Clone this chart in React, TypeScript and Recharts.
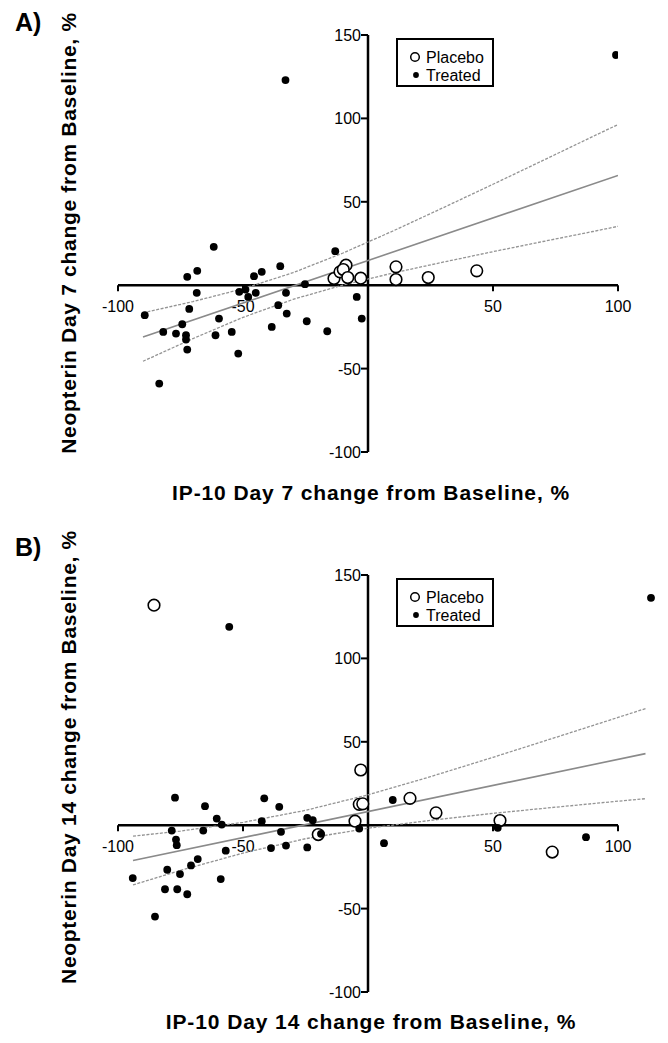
import React from 'react';
import {
  ReferenceDot,
  ReferenceLine,
  Scatter,
  ScatterChart,
  XAxis,
  YAxis,
} from 'recharts';

type Pt = [number, number];

const FONT = '"Liberation Sans", Arial, sans-serif';

const xTicks = [-100, -50, 50, 100];
const yTicks = [-100, -50, 50, 100, 150];

// Panel A — Day 7
const placeboDay7: Pt[] = [
  [-13.6, 4], [-11.2, 8], [-8.8, 12], [-9.9, 9.4], [-8.1, 4.6], [-2.9, 4.2],
  [11.2, 11], [11.2, 3.4], [24.1, 4.6], [43.5, 8.6],
];
const treatedDay7: Pt[] = [
  [-89.3, -18], [-83.5, -59], [-81.9, -28], [-76.8, -29], [-74.3, -23.4],
  [-72.8, -30], [-72.8, -32.6], [-72.3, -38.6], [-71.5, -14.2], [-72.3, 5],
  [-68.5, -4.6], [-68.3, 8.6], [-61.7, 23], [-59.6, -20], [-61, -30],
  [-54.5, -28], [-51.9, -41], [-51.5, -4], [-49, -2.6], [-47.9, -7],
  [-45.6, 5.4], [-44.9, -4.6], [-42.5, 8], [-38.5, -25], [-35.9, -12],
  [-35.1, 11.4], [-32.8, -4.6], [-32.5, -17], [-25.2, 0.6], [-24.5, -21.6],
  [-16.3, -27.6], [-13.1, 20.4], [-4.5, -7], [-2.5, -20], [-33, 123],
  [99.2, 138],
];
const fitDay7: Pt[] = [[-90, -31.1], [100, 65.8]];
const bandXDay7 = [-90, -70, -50, -30, -10, 10, 30, 50, 70, 90, 100];
const upperDay7 = [-16.6, -9.8, -2.1, 7.5, 19.3, 32.5, 46.4, 60.5, 74.8, 89.2, 96.3];
const lowerDay7 = [-45.6, -32, -19.3, -8.5, 0.1, 7.3, 13.8, 20.1, 26.2, 32.2, 35.3];

// Panel B — Day 14
const placeboDay14: Pt[] = [
  [-85.6, 131.9], [-19.9, -5.6], [-5.2, 2.4], [-3.5, 12.5], [-2.1, 12.8],
  [-2.9, 33.1], [16.8, 16.1], [27.2, 7.4], [52.8, 2.8], [73.7, -16.1],
];
const treatedDay14: Pt[] = [
  [-94.1, -31.7], [-85.2, -54.8], [-81.2, -38.4], [-80.3, -26.7], [-77.2, 16.5],
  [-78.5, -3.2], [-76.8, -8.6], [-76.5, -12], [-76.3, -38.4], [-75.2, -29.3],
  [-72.3, -41.4], [-70.8, -24.1], [-68.1, -20.3], [-65.9, -3.2], [-65.2, 11.4],
  [-60.5, 4], [-58.5, 0.4], [-58.9, -32.3], [-56.9, -15.3], [-42.5, 2.4],
  [-41.5, 16.1], [-38.8, -13.7], [-35.5, 11], [-34.8, -4], [-32.8, -12.2],
  [-24.3, 4.4], [-22.1, 3], [-24.3, -13.3], [-18.8, -5.2], [-3.5, -2],
  [6.4, -10.8], [9.9, 15.1], [-55.5, 118.9], [113.2, 136.3], [51.9, -1.6],
  [87.2, -7.2],
];
const fitDay14: Pt[] = [[-94, -21.2], [111, 42.9]];
const bandXDay14 = [-94, -75, -50, -25, 0, 25, 50, 75, 100, 111];
const upperDay14 = [-6.6, -3.5, 1.7, 8.9, 18.2, 29.1, 40.7, 52.6, 64.6, 69.9];
const lowerDay14 = [-35.8, -27.1, -16.7, -8.1, -1.8, 2.9, 7.1, 10.8, 14.4, 15.9];

const rows = (pts: Pt[]) => pts.map(([x, y]) => ({ x, y }));
const zip = (xs: number[], ys: number[]) => xs.map((x, i) => ({ x, y: ys[i] }));

const OpenDot = (p: any) => (
  <circle cx={p.cx} cy={p.cy} r={5.8} fill="#fff" stroke="#000" strokeWidth={1.6} />
);
const FilledDot = (p: any) => <circle cx={p.cx} cy={p.cy} r={3.9} fill="#000" />;
const NoDot = () => <g />;

const xTickShape = (v: number) => (p: any) => (
  <g>
    <line x1={p.cx} x2={p.cx} y1={p.cy} y2={p.cy + 6} stroke="#000" strokeWidth={2} />
    <text x={p.cx} y={p.cy + 27} textAnchor="middle" fontSize={16} fontFamily={FONT} fill="#000">
      {v}
    </text>
  </g>
);

const yTickShape = (v: number) => (p: any) => (
  <g>
    <line x1={p.cx - 7} x2={p.cx} y1={p.cy} y2={p.cy} stroke="#000" strokeWidth={2} />
    <text x={p.cx - 7} y={p.cy + 6} textAnchor="end" fontSize={16} fontFamily={FONT} fill="#000">
      {v}
    </text>
  </g>
);

interface PanelProps {
  top: number;
  xMax: number;
  tag: string;
  tagY: number;
  xTitle: string;
  xTitleY: number;
  yTitle: string;
  yTitleCenter: number;
  placebo: Pt[];
  treated: Pt[];
  fit: Pt[];
  bandX: number[];
  upper: number[];
  lower: number[];
}

function Panel({
  top, xMax, tag, tagY, xTitle, xTitleY, yTitle, yTitleCenter,
  placebo, treated, fit, bandX, upper, lower,
}: PanelProps) {
  // plot area: x -100 at 118px, 2.5px per unit
  const right = 668 - (118 + (xMax + 100) * 2.5);
  const band = { stroke: '#949494', strokeWidth: 1.3, strokeDasharray: '3 1.5' };
  return (
    <div style={{ position: 'absolute', left: 0, top, width: 668, height: 520 }}>
      <ScatterChart width={668} height={520} margin={{ top: 35, right, bottom: 68, left: 118 }}>
        <XAxis type="number" dataKey="x" domain={[-100, xMax]} allowDataOverflow hide />
        <YAxis type="number" dataKey="y" domain={[-100, 150]} allowDataOverflow hide />
        <ReferenceLine
          segment={[{ x: -100, y: 0 }, { x: 100, y: 0 }]}
          stroke="#000"
          strokeWidth={2.5}
          ifOverflow="visible"
        />
        <ReferenceLine
          segment={[{ x: 0, y: -100 }, { x: 0, y: 150 }]}
          stroke="#000"
          strokeWidth={2.5}
          ifOverflow="visible"
        />
        {xTicks.map((v) => (
          <ReferenceDot key={`xt${v}`} x={v} y={0} r={0} shape={xTickShape(v)} ifOverflow="visible" />
        ))}
        {yTicks.map((v) => (
          <ReferenceDot key={`yt${v}`} x={0} y={v} r={0} shape={yTickShape(v)} ifOverflow="visible" />
        ))}
        <Scatter data={zip(bandX, upper)} line={band} lineType="joint" shape={NoDot} isAnimationActive={false} />
        <Scatter data={zip(bandX, lower)} line={band} lineType="joint" shape={NoDot} isAnimationActive={false} />
        <Scatter
          data={rows(fit)}
          line={{ stroke: '#8a8a8a', strokeWidth: 1.6 }}
          lineType="joint"
          shape={NoDot}
          isAnimationActive={false}
        />
        <Scatter name="Placebo" data={rows(placebo)} shape={OpenDot} isAnimationActive={false} />
        <Scatter name="Treated" data={rows(treated)} shape={FilledDot} isAnimationActive={false} />
      </ScatterChart>

      <div
        style={{
          position: 'absolute', left: 396, top: 38, width: 94, height: 45,
          border: '2px solid #000', fontFamily: FONT, fontSize: 16, background: '#fff',
        }}
      >
        <svg width={94} height={45} style={{ display: 'block' }}>
          <circle cx={17} cy={17} r={4.3} fill="#fff" stroke="#000" strokeWidth={1.5} />
          <text x={28} y={23} fontSize={16} fontFamily={FONT}>Placebo</text>
          <circle cx={18} cy={35} r={2.9} fill="#000" />
          <text x={28} y={41} fontSize={16} fontFamily={FONT}>Treated</text>
        </svg>
      </div>

      <svg
        width={668}
        height={520}
        style={{ position: 'absolute', left: 0, top: 0, pointerEvents: 'none', overflow: 'visible' }}
      >
        <text x={15} y={tagY} fontSize={25} fontWeight="bold" fontFamily={FONT}>{tag}</text>
        <text
          transform={`translate(76, ${yTitleCenter}) rotate(-90)`}
          textAnchor="middle"
          fontSize={21}
          fontWeight="bold"
          letterSpacing={0.7}
          fontFamily={FONT}
        >
          {yTitle}
        </text>
        <text
          x={371}
          y={xTitleY}
          textAnchor="middle"
          fontSize={21}
          fontWeight="bold"
          letterSpacing={0.9}
          fontFamily={FONT}
        >
          {xTitle}
        </text>
      </svg>
    </div>
  );
}

export default function App() {
  return (
    <div style={{ position: 'absolute', left: 0, top: 0, width: 668, height: 1043, background: '#fff' }}>
      <Panel
        top={0}
        xMax={100}
        tag="A)"
        tagY={31}
        xTitle="IP-10 Day 7 change from Baseline, %"
        xTitleY={500}
        yTitle="Neopterin Day 7 change from Baseline, %"
        yTitleCenter={233}
        placebo={placeboDay7}
        treated={treatedDay7}
        fit={fitDay7}
        bandX={bandXDay7}
        upper={upperDay7}
        lower={lowerDay7}
      />
      <Panel
        top={540}
        xMax={115}
        tag="B)"
        tagY={16}
        xTitle="IP-10 Day 14 change from Baseline, %"
        xTitleY={489}
        yTitle="Neopterin Day 14 change from Baseline, %"
        yTitleCenter={217}
        placebo={placeboDay14}
        treated={treatedDay14}
        fit={fitDay14}
        bandX={bandXDay14}
        upper={upperDay14}
        lower={lowerDay14}
      />
    </div>
  );
}
